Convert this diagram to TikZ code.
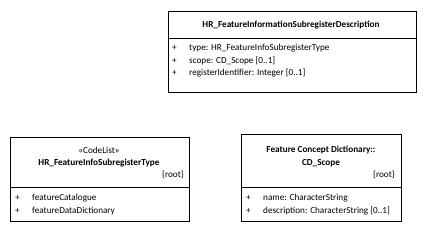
\documentclass[tikz,border=0pt]{standalone}
\usepackage{fontspec}
\setmainfont{Carlito}
\begin{document}
\begin{tikzpicture}[x=1pt,y=-1pt,
  umlbox/.style={draw=black,line width=0.8pt},
  title/.style={font=\fontsize{9.2}{11}\selectfont\bfseries,anchor=center,inner sep=0pt},
  attr/.style={font=\fontsize{9.2}{11}\selectfont,anchor=west,inner sep=0pt},
  tag/.style={font=\fontsize{9.2}{11}\selectfont,inner sep=0pt}]
\useasboundingbox (0,0) rectangle (426,251);

% HR_FeatureInformationSubregisterDescription
\draw[umlbox] (168,11) rectangle (416,92);
\draw[umlbox] (168,38) -- (416,38);
\node[title] (t1) at (291,25) {HR\_FeatureInformationSubregisterDescription};
\foreach \yy/\txt [count=\i] in {48/{type: HR\_FeatureInfoSubregisterType},61/{scope: CD\_Scope [0..1]},73/{registerIdentifier: Integer [0..1]}}{
  \node[attr] (p1\i) at (172,\yy) {+};
  \node[attr] (a1\i) at (189,\yy) {\txt};
}

% HR_FeatureInfoSubregisterType
\draw[umlbox] (10,137) rectangle (189,221);
\draw[umlbox] (10,187) -- (189,187);
\node[tag] (s2) at (99,150) {«CodeList»};
\node[title] (t2) at (99,163) {HR\_FeatureInfoSubregisterType};
\node[tag,anchor=east] (r2) at (184,175) {\{root\}};
\foreach \yy/\txt [count=\i] in {198/{featureCatalogue},211/{featureDataDictionary}}{
  \node[attr] (p2\i) at (15,\yy) {+};
  \node[attr] (a2\i) at (32,\yy) {\txt};
}

% CD_Scope
\draw[umlbox] (241,134) rectangle (401,221);
\draw[umlbox] (241,187) -- (401,187);
\node[title] (t3a) at (321,150) {Feature Concept Dictionary::};
\node[title] (t3b) at (321,163) {CD\_Scope};
\node[tag,anchor=east] (r3) at (395,175) {\{root\}};
\foreach \yy/\txt [count=\i] in {198/{name: CharacterString},211/{description: CharacterString [0..1]}}{
  \node[attr] (p3\i) at (246,\yy) {+};
  \node[attr] (a3\i) at (263,\yy) {\txt};
}
\end{tikzpicture}
\end{document}
